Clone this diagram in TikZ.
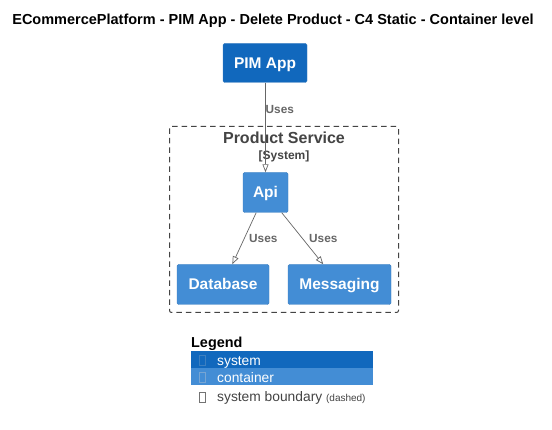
\documentclass[tikz,border=0pt]{standalone}
\usepackage{fontspec}
\setmainfont{Liberation Sans}
\usetikzlibrary{arrows.meta}
\definecolor{sysblue}{HTML}{1168BD}
\definecolor{contblue}{HTML}{438DD5}
\definecolor{sysedge}{HTML}{3C7FC0}
\definecolor{contedge}{HTML}{3C7FC0}
\definecolor{lblgray}{HTML}{666666}
\definecolor{bndgray}{HTML}{444444}
\tikzset{
  boxtext/.style={text=white, font=\bfseries\fontsize{15.5}{17}\selectfont, inner sep=0pt, text height=11pt, text depth=0pt},
  sysbox/.style={rectangle, rounded corners=1.5pt, fill=sysblue, draw=sysedge, boxtext},
  contbox/.style={rectangle, rounded corners=1.5pt, fill=contblue, draw=contedge, boxtext},
  rel/.style={draw=lblgray, line width=0.7pt, -{Triangle[open,length=8pt,width=6pt]}},
  rellabel/.style={text=lblgray, font=\bfseries\fontsize{11.8}{13}\selectfont, inner sep=0pt, anchor=base west},
  legtext/.style={font=\fontsize{13.8}{15}\selectfont, inner sep=0pt, anchor=base west}
}
\begin{document}
\begin{tikzpicture}[x=1pt,y=-1pt]
\useasboundingbox[fill=white] (0,0) rectangle (552,430);
% title
\node[font=\bfseries\fontsize{14.5}{16}\selectfont, inner sep=0pt, anchor=base] (title) at (273,24.3) {ECommercePlatform - PIM App - Delete Product - C4 Static - Container level};
% boundary
\draw[bndgray, dash pattern=on 5.5pt off 4pt, line width=1pt, rounded corners=2pt] (169.5,126.5) rectangle (398.5,312.5);
\node[text=bndgray, font=\bfseries\fontsize{16}{18}\selectfont, inner sep=0pt, anchor=base] (bname) at (284,143.5) {Product Service};
\node[text=bndgray, font=\bfseries\fontsize{12}{13}\selectfont, inner sep=0pt, anchor=base] (btype) at (284,159.5) {[System]};
% nodes
\node[sysbox, minimum width=84pt, minimum height=39pt] (pim) at (265,63) {PIM App};
\node[contbox, minimum width=45pt, minimum height=40pt] (api) at (265.5,192.5) {Api};
\node[contbox, minimum width=92pt, minimum height=40pt] (db) at (223,284.5) {Database};
\node[contbox, minimum width=103pt, minimum height=40pt] (msg) at (339.5,284.5) {Messaging};
% relations
\draw[rel] (pim.south -| api.north) -- (api.north);
\draw[rel] (api) -- (db);
\draw[rel] (api) -- (msg);
\node[rellabel] (l1) at (265.5,113.5) {Uses};
\node[rellabel] (l2) at (249,242.5) {Uses};
\node[rellabel] (l3) at (309,242.5) {Uses};
% legend
\node[font=\bfseries\fontsize{14.4}{16}\selectfont, inner sep=0pt, anchor=base west] (leg) at (191,348) {Legend};
\fill[sysblue] (191,351) rectangle (373,368);
\fill[contblue] (191,368) rectangle (373,385.5);
\draw[sysedge, line width=0.4pt] (199,355) rectangle (205,365);
\draw[sysedge!70!white, line width=0.4pt] (199,372) rectangle (205,382);
\draw[black!55, line width=0.5pt] (199,392) rectangle (205,402);
\node[legtext, text=white] (ls) at (217,365.5) {system};
\node[legtext, text=white] (lc) at (217,382.5) {container};
\node[legtext, text=bndgray] (lb) at (217,401.5) {system boundary \fontsize{10}{11}\selectfont(dashed)};
\end{tikzpicture}
\end{document}
